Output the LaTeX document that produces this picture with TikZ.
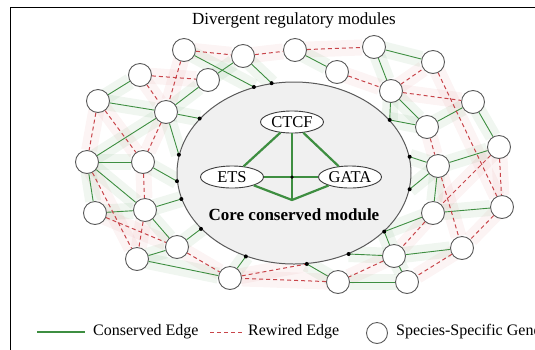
\documentclass[tikz,border=0pt]{standalone}
\usepackage{fontspec}
\setmainfont{Liberation Serif}
\usetikzlibrary{shapes.geometric}
\pgfdeclarelayer{bg}
\pgfsetlayers{bg,main}
\definecolor{cgreen}{HTML}{3E8E41}
\definecolor{cred}{HTML}{C8454A}
\definecolor{cgray}{HTML}{5A5A5A}
\definecolor{corefill}{HTML}{F0F0F0}
\begin{document}
\begin{tikzpicture}[x=1pt,y=-1pt,
 gene/.style={circle,draw=cgray,fill=white,line width=0.9pt,minimum size=23pt,inner sep=0pt},
 tf/.style={ellipse,draw=cgray!70!black,fill=white,line width=0.9pt,minimum width=63pt,minimum height=22pt,inner sep=0pt,font=\fontsize{16.5}{18}\selectfont},
 cons/.style={draw=cgreen,line width=0.9pt},
 rew/.style={draw=cred,line width=1pt,dash pattern=on 4pt off 3pt},
 corecons/.style={draw=cgreen,line width=2.2pt},
 joint/.style={circle,fill=black,inner sep=0pt,minimum size=4pt},
 gtint/.style={draw=cgreen,line width=16pt,opacity=0.08},
 rtint/.style={draw=cred,line width=16pt,opacity=0.06},
]
\useasboundingbox (0,0) rectangle (535,349);
\clip (0,0) rectangle (535,349);
\node[draw=black,line width=1.4pt,minimum width=560pt,minimum height=370pt,anchor=north west] (frame) at (10,7) {};

\node (title) at (294,20) {\fontsize{17}{20}\selectfont Divergent regulatory modules};

% core module
\node[ellipse,draw=cgray,fill=corefill,line width=1pt,minimum width=234pt,minimum height=182pt,inner sep=0pt] (core) at (294,173) {};

% genes
\foreach \n/\x/\y in {A1/184/50,A2/243/56,A3/295/50,A4/374/47,A5/433/62,
  B1/140/75,B2/208/80,B3/337/72,B4/391/91,B5/473/102,
  C1/98/101,C2/166/112,C3/427/127,C4/499/147,C5/438/166,
  D1/87/162,D2/143/162,E1/95/213,E2/145/210,F1/177/247,F2/137/259,
  G1/230/278,G2/338/282,G3/407/282,H1/394/256,H2/462/248,I1/433/213,I2/502/207}
  \node[gene] (\n) at (\x,\y) {};

% attachment points on the core border
\foreach \n/\a in {d0/115.8,d13/104.9,d1/150.3,d2/171,d3/184.9,d4/193.1,d5/211.2,d6/240,
  d7/278.8,d8/304,d9/327.6,d10/352.6,d11/8,d12/29.7}
  \coordinate (\n) at (core.\a);

\def\greenedges{A2/d13,A1/d0,A3/B3,A4/B4,A4/A5,B4/d12,B4/C3,C3/d12,C3/B5,B5/C4,C5/d11,C5/C4,C5/I1,C5/d10,I1/I2,I1/d9,H1/d9,H1/H2,H1/d8,H1/G3,G3/G2,G2/d7,G1/d6,F2/G1,F1/d5,F2/F1,E2/F1,E1/E2,D1/E1,D1/D2,D2/d3,E2/d4,C2/d1,C2/d2,C1/B1,C1/C2,D1/C2,C2/B2,B2/A2,D1/E2}
\def\rededges{A1/A2,A2/A3,A3/A4,A1/C2,B1/B2,B1/C2,B3/B4,B4/A5,B4/B5,A5/I2,C3/C5,C4/I2,C4/I1,C5/H2,I1/H1,I2/H2,H2/G3,H1/G2,G2/G1,G1/d7,F1/G1,E1/F1,E2/F2,D2/E2,C1/D1,D1/F2,C1/D2,C2/D2}

\begin{pgfonlayer}{bg}
  \foreach \a/\b in \greenedges \draw[gtint] (\a.center) -- (\b);
  \foreach \a/\b in \rededges \draw[rtint] (\a.center) -- (\b);
\end{pgfonlayer}

\foreach \a/\b in \greenedges \draw[cons] (\a) -- (\b);
\foreach \a/\b in \rededges \draw[rew] (\a) -- (\b);

\foreach \n in {d0,d13,d1,d2,d3,d4,d5,d6,d7,d8,d9,d10,d11,d12}
  \node[joint] at (\n) {};

% core transcription factors
\node[tf] (CTCF) at (292,122) {CTCF};
\node[tf] (ETS) at (232,177) {ETS};
\node[tf] (GATA) at (350,177) {GATA};
\coordinate (bot) at (292,200);
\coordinate (mid) at (292,177);
\draw[corecons] (CTCF) -- (ETS);
\draw[corecons] (CTCF) -- (GATA);
\draw[corecons] (CTCF) -- (bot);
\draw[corecons] (ETS) -- (GATA);
\draw[corecons,line join=round] (ETS) -- (bot) -- (GATA);
\node[joint,minimum size=3.5pt] at (mid) {};
\node[font=\fontsize{17}{20}\selectfont\bfseries] (corelabel) at (294,215) {Core conserved module};

% legend
\coordinate (lg1) at (37,332);
\coordinate (lg2) at (85,332);
\draw[corecons,line width=2pt] (lg1) -- (lg2);
\node[anchor=west,font=\fontsize{16}{19}\selectfont,inner sep=0pt] (lgc) at (93,332) {Conserved Edge};
\coordinate (lr1) at (210,332);
\coordinate (lr2) at (243,332);
\draw[rew] (lr1) -- (lr2);
\node[anchor=west,font=\fontsize{16}{19}\selectfont,inner sep=0pt] (lgr) at (248,332) {Rewired Edge};
\node[gene,minimum size=21pt] (lgg) at (377,333) {};
\node[anchor=west,font=\fontsize{16}{19}\selectfont,inner sep=0pt] (lgs) at (396,332) {Species-Specific Gene};
\end{tikzpicture}
\end{document}
